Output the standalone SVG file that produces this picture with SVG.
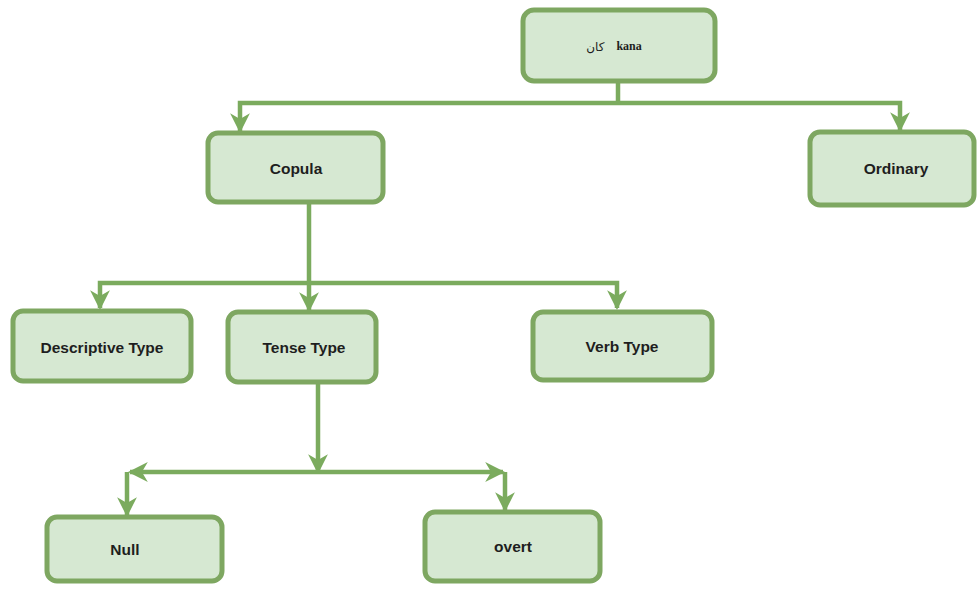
<svg xmlns="http://www.w3.org/2000/svg" width="979" height="590" viewBox="0 0 979 590">
<defs>
<style>
.box{fill:#d6e8d2;stroke:#7ea761;stroke-width:5}
.lbl{font-family:"Liberation Sans",Arial,sans-serif;font-weight:bold;font-size:15.5px;fill:#1e1e1e;text-anchor:middle;dominant-baseline:central}
.edge{fill:none;stroke:#7bab5e;stroke-width:4.5}
</style>
<marker id="ah" viewBox="0 0 10 10" refX="9" refY="5" markerWidth="4.4" markerHeight="4.4" orient="auto" markerUnits="strokeWidth">
<path d="M0,0 L10,5 L0,10 L3,5 Z" fill="#7bab5e"/>
</marker>
</defs>
<rect width="979" height="590" fill="#ffffff"/>
<g id="connectors">
<path class="edge" d="M618,81 V103"/>
<path class="edge" d="M618,103 H240 V131" marker-end="url(#ah)"/>
<path class="edge" d="M618,103 H900 V130" marker-end="url(#ah)"/>
<path class="edge" d="M309,203 V283"/>
<path class="edge" d="M309,283 H100 V308" marker-end="url(#ah)"/>
<path class="edge" d="M309,283 V310" marker-end="url(#ah)"/>
<path class="edge" d="M309,283 H617 V308" marker-end="url(#ah)"/>
<path class="edge" d="M318,383 V472" marker-end="url(#ah)"/>
<path class="edge" d="M318,472 H130" marker-end="url(#ah)"/>
<path class="edge" d="M318,472 H503" marker-end="url(#ah)"/>
<path class="edge" d="M127,472 V515" marker-end="url(#ah)"/>
<path class="edge" d="M505,472 V510" marker-end="url(#ah)"/>
</g>
<g id="kana">
<rect class="box" x="523" y="10" width="192" height="71" rx="11"/>
<text class="lbl" x="614" y="46" style="font-size:12px"><tspan font-family="'Noto Sans','DejaVu Sans',sans-serif" font-weight="normal">كان</tspan><tspan dx="12" font-family="'Liberation Serif',serif">kana</tspan></text>
</g>
<g id="copula">
<rect class="box" x="208" y="133" width="175" height="69" rx="10"/>
<text class="lbl" x="296" y="168">Copula</text>
</g>
<g id="ordinary">
<rect class="box" x="810" y="132" width="164" height="73" rx="10"/>
<text class="lbl" x="896" y="168">Ordinary</text>
</g>
<g id="descriptive">
<rect class="box" x="13" y="311" width="178" height="70" rx="10"/>
<text class="lbl" x="102" y="347">Descriptive Type</text>
</g>
<g id="tense">
<rect class="box" x="228" y="312" width="148" height="70" rx="10"/>
<text class="lbl" x="304" y="347">Tense Type</text>
</g>
<g id="verb">
<rect class="box" x="533" y="312" width="179" height="68" rx="10"/>
<text class="lbl" x="622" y="346">Verb Type</text>
</g>
<g id="null">
<rect class="box" x="47" y="517" width="175" height="64" rx="10"/>
<text class="lbl" x="125" y="549">Null</text>
</g>
<g id="overt">
<rect class="box" x="425" y="512" width="175" height="69" rx="10"/>
<text class="lbl" x="513" y="546">overt</text>
</g>
</svg>
